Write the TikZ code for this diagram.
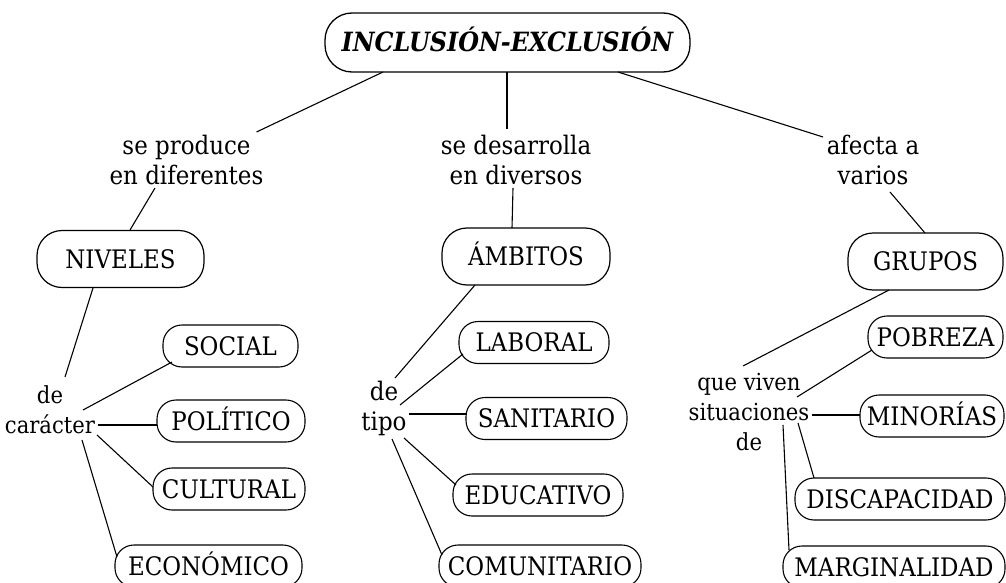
\documentclass[tikz,border=0pt]{standalone}
\usepackage{fontspec}
\setmainfont{DejaVu Serif}[FakeStretch=0.9]
\begin{document}
\begin{tikzpicture}[x=1pt,y=-1pt,
  conn/.style={line width=1.1pt},
  titlebox/.style={draw, line width=1.3pt, rounded corners=27pt, inner sep=0pt,
     minimum height=59pt, text height=19pt, text depth=0pt,
     font=\fontsize{26.5}{30}\selectfont\bfseries\itshape},
  bigbox/.style={draw, line width=1.2pt, rounded corners=25pt, inner sep=0pt,
     minimum height=57pt, text height=18.5pt, text depth=0pt,
     font=\fontsize{25.5}{30}\selectfont},
  smallbox/.style={draw, line width=1.1pt, rounded corners=19pt, inner sep=0pt,
     minimum height=42pt, text height=18.5pt, text depth=0pt,
     font=\fontsize{25.5}{30}\selectfont},
  lab/.style={inner sep=0pt, align=center, font=\fontsize{25.5}{30}\selectfont},
  labs/.style={lab, font=\fontsize{23.5}{30}\selectfont}]
\clip (0,0) rectangle (1006,583);
\useasboundingbox (0,0) rectangle (1006,583);
\newcommand\cnx[4]{\draw[conn] ([shift={#2}]#1.center) -- ([shift={#4}]#3.center);}

% nodes
\node[titlebox, minimum width=365pt] (T) at (507.5,42.5) {INCLUSIÓN-EXCLUSIÓN};

\node[lab] (l1) at (186.5,160) {se produce\\en diferentes};
\node[lab] (l2) at (516,160) {se desarrolla\\en diversos};
\node[lab] (l3) at (873,160) {afecta a\\varios};

\node[bigbox, minimum width=167pt] (niv) at (120.5,259) {NIVELES};
\node[bigbox, minimum width=168pt] (amb) at (526,256.5) {ÁMBITOS};
\node[bigbox, minimum width=155pt] (gru) at (925.5,261.5) {GRUPOS};

\node[labs] (l4) at (50,410) {de\\carácter};
\node[lab] (l5) at (384,408) {de\\tipo};
\node[labs] (l6) at (749,412) {que viven\\situaciones\\de};

\node[smallbox, minimum width=135pt] (soc) at (230.5,346) {SOCIAL};
\node[smallbox, minimum width=148pt] (pol) at (231,421) {POLÍTICO};
\node[smallbox, minimum width=152pt] (cul) at (229,489) {CULTURAL};
\node[smallbox, minimum width=187pt] (eco) at (208.5,566) {ECONÓMICO};

\node[smallbox, minimum width=150pt] (lab) at (534,342.5) {LABORAL};
\node[smallbox, minimum width=161pt] (san) at (546.5,418.5) {SANITARIO};
\node[smallbox, minimum width=170pt] (edu) at (538,495) {EDUCATIVO};
\node[smallbox, minimum width=202pt] (com) at (540,566) {COMUNITARIO};

\node[smallbox, minimum width=135pt] (pob) at (935.5,337) {POBREZA};
\node[smallbox, minimum width=144pt] (min) at (932,416) {MINORÍAS};
\node[smallbox, minimum width=210pt] (dis) at (900,499) {DISCAPACIDAD};
\node[smallbox, minimum width=222pt] (mar) at (894,567) {MARGINALIDAD};

% connectors
\cnx{T}{(-124.5,29.5)}{l1}{(70,-28)}
\cnx{T}{(-0.5,29.5)}{l2}{(-9,-31)}
\cnx{T}{(110.5,29.5)}{l3}{(-50,-23)}

\cnx{l1}{(-31.5,28)}{niv}{(9.5,-29)}
\cnx{l2}{(-3,28)}{amb}{(-14,-28.5)}
\cnx{l3}{(17,32)}{gru}{(-0.5,-28.5)}

\cnx{niv}{(-27.5,29)}{l4}{(15,-33)}
\cnx{l4}{(33,0)}{soc}{(-58.5,16)}
\cnx{l4}{(48,15)}{pol}{(-74,4)}
\cnx{l4}{(47,25)}{cul}{(-76,-2)}
\cnx{l4}{(32,30)}{eco}{(-91.5,-9)}

\cnx{amb}{(-51,28.5)}{l5}{(11,-30)}
\cnx{l5}{(16,-3)}{lab}{(-71,11.5)}
\cnx{l5}{(25,6)}{san}{(-79.5,-4.5)}
\cnx{l5}{(20,30)}{edu}{(-82,-10)}
\cnx{l5}{(8,31)}{com}{(-98,-11)}

\cnx{gru}{(-36.5,28.5)}{l6}{(-6,-46)}
\cnx{l6}{(48,-15)}{pob}{(-63.5,13)}
\cnx{l6}{(63,3)}{min}{(-72,-1)}
\cnx{l6}{(49,11)}{dis}{(-86,-21)}
\cnx{l6}{(34,13)}{mar}{(-105,-17)}
\end{tikzpicture}
\end{document}
